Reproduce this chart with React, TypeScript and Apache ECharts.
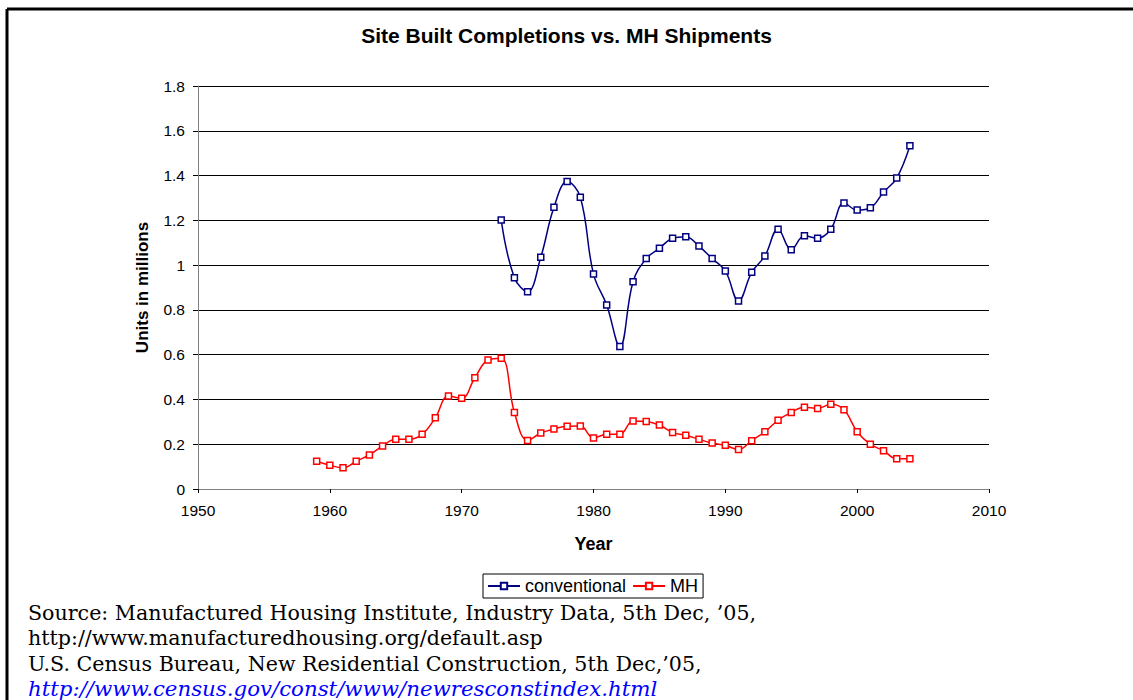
import React, { useEffect, useRef } from "react";
import * as echarts from "echarts";

const convYears = [1973,1974,1975,1976,1977,1978,1979,1980,1981,1982,1983,1984,1985,1986,1987,1988,1989,1990,1991,1992,1993,1994,1995,1996,1997,1998,1999,2000,2001,2002,2003,2004];
const convValues = [1.201,0.944,0.881,1.035,1.258,1.373,1.303,0.960,0.822,0.636,0.926,1.029,1.075,1.120,1.127,1.085,1.029,0.974,0.840,0.968,1.041,1.160,1.069,1.131,1.120,1.160,1.277,1.246,1.256,1.326,1.389,1.533];

const mhYears = [1959,1960,1961,1962,1963,1964,1965,1966,1967,1968,1969,1970,1971,1972,1973,1974,1975,1976,1977,1978,1979,1980,1981,1982,1983,1984,1985,1986,1987,1988,1989,1990,1991,1992,1993,1994,1995,1996,1997,1998,1999,2000,2001,2002,2003,2004];
const mhValues = [0.124,0.106,0.095,0.124,0.152,0.192,0.222,0.222,0.244,0.318,0.415,0.405,0.497,0.576,0.584,0.342,0.217,0.250,0.268,0.280,0.281,0.228,0.244,0.244,0.304,0.302,0.286,0.252,0.240,0.222,0.205,0.195,0.176,0.216,0.256,0.307,0.342,0.365,0.360,0.378,0.354,0.256,0.200,0.171,0.135,0.135];

const titleText = "Site Built Completions vs. MH Shipments";
const sourceLines = [
  "Source: Manufactured Housing Institute, Industry Data, 5th Dec, \u201905,",
  "http://www.manufacturedhousing.org/default.asp",
  "U.S. Census Bureau, New Residential Construction, 5th Dec,\u201905,",
  "http://www.census.gov/const/www/newresconstindex.html",
];

export default function App() {
  const ref = useRef<HTMLDivElement>(null);
  useEffect(() => {
    if (!ref.current) return;
    const chart = echarts.init(ref.current, null, { renderer: "svg" });
    const font = "Arial, 'Liberation Sans', sans-serif";
    const serif = "'Century Schoolbook', 'DejaVu Serif', serif";
    chart.setOption({
      animation: false,
      backgroundColor: "#fff",
      title: {
        text: titleText,
        left: "center",
        top: 20,
        textStyle: { fontFamily: font, fontSize: 21, fontWeight: "bold", color: "#000" },
      },
      legend: {
        left: 483,
        top: 574,
        itemGap: 6,
        itemWidth: 32,
        itemHeight: 8,
        padding: [3, 5, 3, 4],
        borderColor: "#000",
        borderWidth: 1,
        borderRadius: 0,
        textStyle: { fontFamily: font, fontSize: 18, color: "#000", padding: [0, 0, 0, 0] },
        data: ["conventional", "MH"],
      },
      grid: { left: 198, right: 144, top: 86, bottom: 211, containLabel: false },
      xAxis: {
        type: "value",
        min: 1950,
        max: 2010,
        interval: 10,
        name: "Year",
        nameLocation: "middle",
        nameGap: 46,
        nameTextStyle: { fontFamily: font, fontSize: 18, fontWeight: "bold", color: "#000" },
        axisLine: { show: true, lineStyle: { color: "#808080", width: 1 } },
        axisTick: { show: true, length: 4, lineStyle: { color: "#000" } },
        axisLabel: {
          fontFamily: font,
          fontSize: 15.5,
          color: "#000",
          margin: 13,
          formatter: (v: number) => String(v),
        },
        splitLine: { show: false },
      },
      yAxis: {
        type: "value",
        min: 0,
        max: 1.8,
        interval: 0.2,
        name: "Units in millions",
        nameLocation: "middle",
        nameGap: 47,
        nameRotate: 90,
        nameTextStyle: { fontFamily: font, fontSize: 17, fontWeight: "bold", color: "#000" },
        axisLine: { show: true, lineStyle: { color: "#808080", width: 1 } },
        axisTick: { show: true, length: 5, lineStyle: { color: "#000" } },
        axisLabel: {
          fontFamily: font,
          fontSize: 15.5,
          color: "#000",
          margin: 13,
          formatter: (v: number) => String(Math.round(v * 10) / 10),
        },
        splitLine: { show: true, lineStyle: { color: "#000", width: 1 } },
      },
      series: [
        {
          name: "conventional",
          type: "line",
          smooth: 0.4,
          data: convYears.map((y, i) => [y, convValues[i]]),
          symbol: "rect",
          symbolSize: 6,
          showAllSymbol: true,
          lineStyle: { color: "#000080", width: 1.5 },
          itemStyle: { color: "#ffffff", borderColor: "#000080", borderWidth: 1.5 },
          emphasis: { disabled: true },
        },
        {
          name: "MH",
          type: "line",
          smooth: 0.4,
          data: mhYears.map((y, i) => [y, mhValues[i]]),
          symbol: "rect",
          symbolSize: 6,
          showAllSymbol: true,
          lineStyle: { color: "#ff0000", width: 1.5 },
          itemStyle: { color: "#ffffff", borderColor: "#ff0000", borderWidth: 1.5 },
          emphasis: { disabled: true },
        },
      ],
      graphic: [
        { type: "line", shape: { x1: 7, y1: 9, x2: 1133, y2: 9 }, style: { stroke: "#000", lineWidth: 3 } },
        { type: "line", shape: { x1: 7, y1: 9, x2: 7, y2: 700 }, style: { stroke: "#000", lineWidth: 3 } },
        ...sourceLines.map((t, i) => ({
          type: "text",
          x: 28,
          y: 613 + i * 25.3,
          style: {
            text: t,
            fontFamily: serif,
            fontSize: i === 3 ? 21.3 : 20.6,
            fontStyle: i === 3 ? "italic" : "normal",
            fill: i === 3 ? "#0000ff" : "#000",
            verticalAlign: "middle",
          },
        })),
      ],
    });
    return () => chart.dispose();
  }, []);
  return <div ref={ref} style={{ position: "fixed", left: 0, top: 0, width: 1133, height: 700 }} />;
}
